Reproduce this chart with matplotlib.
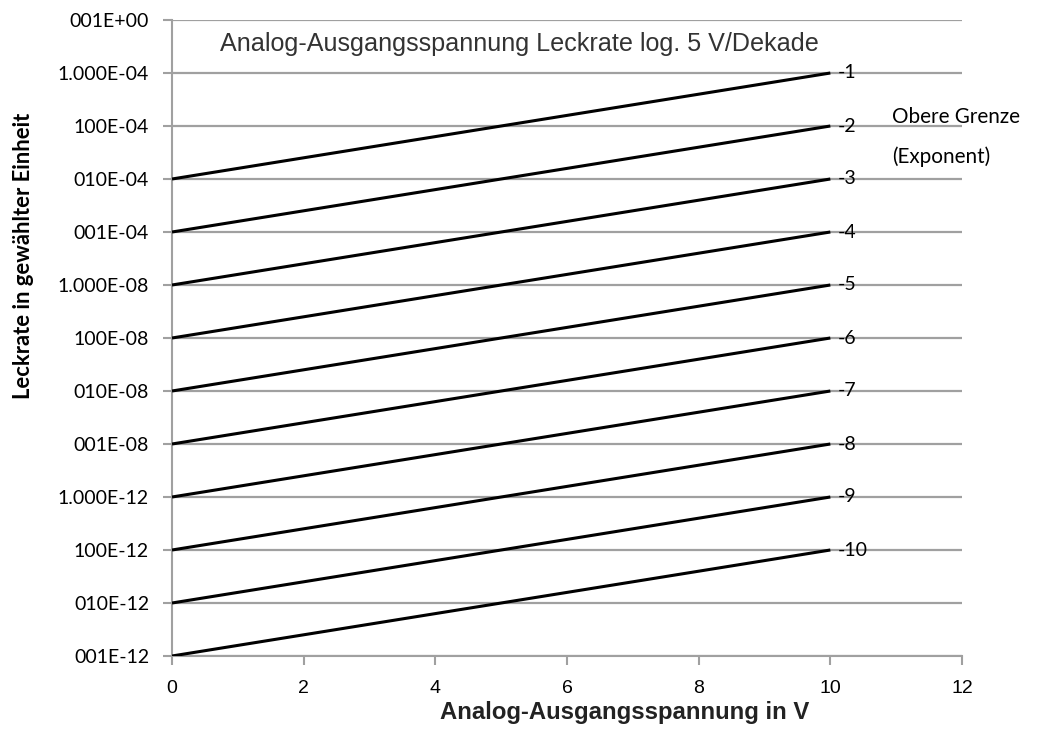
import matplotlib
matplotlib.use("Agg")
import matplotlib.pyplot as plt
import matplotlib.ticker as mticker
from matplotlib import font_manager

# Data
x_volts = [0, 10]
exponents = [-1, -2, -3, -4, -5, -6, -7, -8, -9, -10]
start_values = [1e-3, 1e-4, 1e-5, 1e-6, 1e-7, 1e-8, 1e-9, 1e-10, 1e-11, 1e-12]
end_values = [1e-1, 1e-2, 1e-3, 1e-4, 1e-5, 1e-6, 1e-7, 1e-8, 1e-9, 1e-10]
ytick_values = [1e0, 1e-1, 1e-2, 1e-3, 1e-4, 1e-5, 1e-6, 1e-7, 1e-8, 1e-9, 1e-10, 1e-11, 1e-12]
ytick_labels = ["001E+00", "1.000E-04", "100E-04", "010E-04", "001E-04",
                "1.000E-08", "100E-08", "010E-08", "001E-08",
                "1.000E-12", "100E-12", "010E-12", "001E-12"]
xticks = [0, 2, 4, 6, 8, 10, 12]
title = "Analog-Ausgangsspannung Leckrate log. 5 V/Dekade"
xlabel = "Analog-Ausgangsspannung in V"
ylabel = "Leckrate in gewählter Einheit"

# narrow font if available
names = {f.name for f in font_manager.fontManager.ttflist}
if "Liberation Sans Narrow" in names:
    NARROW, XT_SIZE = "Liberation Sans Narrow", 16
else:
    NARROW, XT_SIZE = "Liberation Sans", 14

W, H = 1040, 751
fig = plt.figure(figsize=(W / 100, H / 100), dpi=100)
ax = fig.add_axes([172 / W, 1 - 656 / H, (962 - 172) / W, (656 - 20) / H])
ax.set_yscale("log")
ax.set_xlim(0, 12)
ax.set_ylim(1e-12, 1e0)

GRID = "#a0a0a0"
for yv in ytick_values:
    ax.axhline(yv, color=GRID, lw=1.6, zorder=1)

for e, s, en in zip(exponents, start_values, end_values):
    ax.plot(x_volts, [s, en], color="black", lw=2.2, zorder=3, solid_capstyle="butt")
    ax.text(x_volts[1] + 0.12, en, str(e), fontsize=14, family="Lato",
            va="center", ha="left", zorder=4)

ax.set_yticks(ytick_values)
ax.set_yticklabels(ytick_labels, family="Lato", fontsize=14)
ax.yaxis.set_minor_locator(mticker.NullLocator())
ax.set_xticks(xticks)
ax.set_xticklabels([str(t) for t in xticks], family=NARROW, fontsize=XT_SIZE)
ax.tick_params(axis="both", color=GRID, width=1.5, length=6.5, direction="out")
ax.tick_params(axis="y", pad=10)
ax.tick_params(axis="x", pad=11)

for side in ["top", "right"]:
    ax.spines[side].set_visible(False)
for side in ["left", "bottom"]:
    ax.spines[side].set_color(GRID)
    ax.spines[side].set_linewidth(1.5)

t_title = fig.text(220 / W, 1 - 44 / H, title, fontsize=16, family="Liberation Sans",
                   color="#333333", va="center", ha="left")
t_ob = fig.text(892 / W, 1 - 117 / H, "Obere Grenze", fontsize=15, family="Lato", va="center", ha="left")
t_ex = fig.text(892 / W, 1 - 157 / H, "(Exponent)", fontsize=15, family="Lato", va="center", ha="left")
t_xl = fig.text(625 / W, 1 - 712 / H, xlabel, fontsize=17, fontweight="bold",
                family=NARROW, color="#222222", ha="center", va="center")
t_yl = fig.text(24 / W, 1 - 256 / H, ylabel, fontsize=14, fontweight="bold",
                family="Lato", rotation=90, ha="center", va="center")

# fit text sizes to measured widths in reference (pixels)
fig.canvas.draw()
r = fig.canvas.get_renderer()
def fit(t, target, vertical=False):
    bb = t.get_window_extent(r)
    cur = bb.height if vertical else bb.width
    t.set_fontsize(t.get_fontsize() * target / cur)
fit(t_title, 600)
fit(t_ob, 128)
t_ex.set_fontsize(t_ob.get_fontsize())
fit(t_xl, 371)
fit(t_yl, 288, vertical=True)

fig.savefig("out.png", dpi=100)
